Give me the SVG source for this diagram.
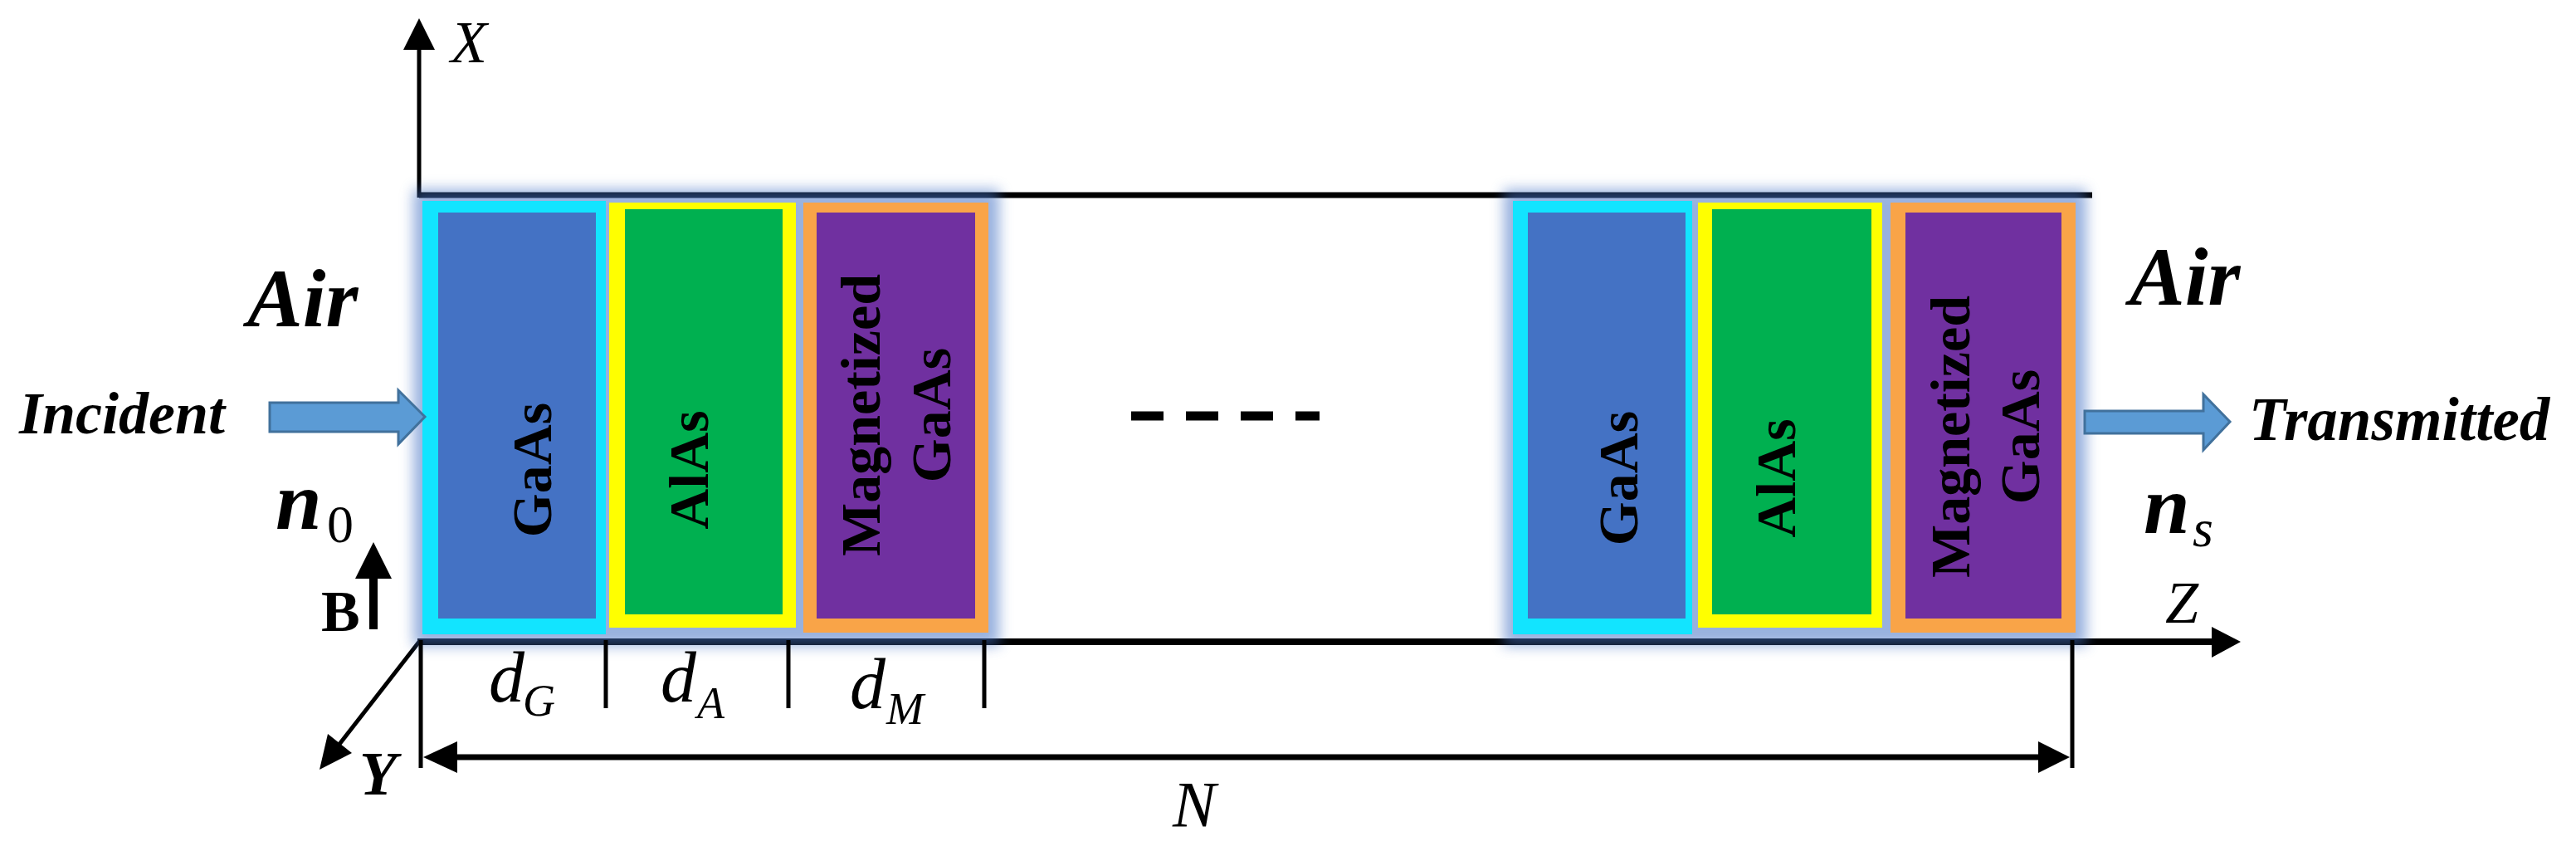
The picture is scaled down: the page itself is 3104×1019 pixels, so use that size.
<svg xmlns="http://www.w3.org/2000/svg" width="3104" height="1019" viewBox="0 0 3104 1019">
<style>
.ln{stroke:#000;fill:none}
.hd{fill:#000}
.lbl{font-family:"Liberation Serif",serif;fill:#000}
.bi{font-style:italic;font-weight:bold}
.it{font-style:italic}
.cell{font-family:"Liberation Serif",serif;font-weight:bold;font-size:68px;fill:#000;text-anchor:middle}
.big{fill:#5B9BD5;stroke:#41719C;stroke-width:3}
.glow{fill:#4472C4;opacity:0.55}
</style>
<defs>
<filter id="blur" x="-20%" y="-20%" width="140%" height="140%"><feGaussianBlur stdDeviation="8"/></filter>
</defs>
<rect width="3104" height="1019" fill="#fff"/>
<g id="axes">
<line class="ln" x1="505" y1="235" x2="2521" y2="235" stroke-width="7"/>
<line class="ln" x1="503" y1="773" x2="2668" y2="773" stroke-width="8"/>
<polygon class="hd" points="2700,773 2665,755 2665,792"/>
<line class="ln" x1="505" y1="238" x2="505" y2="55" stroke-width="5"/>
<polygon class="hd" points="505,22 486,60 524,60"/>
<line class="ln" x1="505" y1="773" x2="403" y2="904" stroke-width="5"/>
<polygon class="hd" points="385,927 395,884 424,907"/>
</g>
<g id="glow1"><rect class="glow" x="498" y="228" width="706" height="550" filter="url(#blur)"/></g>
<g id="glow2"><rect class="glow" x="1812" y="228" width="702" height="550" filter="url(#blur)"/></g>
<g id="gaas1">
<rect x="509" y="242" width="221" height="522" fill="#12E4FF"/>
<rect x="528" y="256" width="190" height="489" fill="#4472C4"/>
<text class="cell" transform="translate(664,566) rotate(-90)">GaAs</text>
</g>
<g id="alas1">
<rect x="734" y="244" width="225" height="512" fill="#FFFF00"/>
<rect x="753" y="252" width="190" height="488" fill="#00B050"/>
<text class="cell" transform="translate(853,566) rotate(-90)">AlAs</text>
</g>
<g id="mag1">
<rect x="968" y="244" width="223" height="518" fill="#F9A448"/>
<rect x="984" y="256" width="191" height="489" fill="#7030A0"/>
<text class="cell" transform="translate(1060,500) rotate(-90)">Magnetized</text>
<text class="cell" transform="translate(1145,500) rotate(-90)">GaAs</text>
</g>
<g id="gaas2">
<rect x="1823" y="242" width="216" height="522" fill="#12E4FF"/>
<rect x="1841" y="256" width="190" height="489" fill="#4472C4"/>
<text class="cell" transform="translate(1973,576) rotate(-90)">GaAs</text>
</g>
<g id="alas2">
<rect x="2046" y="244" width="222" height="512" fill="#FFFF00"/>
<rect x="2063" y="252" width="192" height="488" fill="#00B050"/>
<text class="cell" transform="translate(2163,576) rotate(-90)">AlAs</text>
</g>
<g id="mag2">
<rect x="2278" y="244" width="223" height="518" fill="#F9A448"/>
<rect x="2296" y="256" width="188" height="489" fill="#7030A0"/>
<text class="cell" transform="translate(2373,526) rotate(-90)">Magnetized</text>
<text class="cell" transform="translate(2457,526) rotate(-90)">GaAs</text>
</g>
<g id="connectors">
<polygon class="big" points="325,485 480,485 480,470 512,502 480,535 480,520 325,520"/>
<polygon class="big" points="2512,495 2655,495 2655,475 2687,508 2655,542 2655,522 2512,522"/>
<rect x="445" y="690" width="10" height="68" fill="#000"/>
<polygon class="hd" points="450,653 428,697 472,697"/>
<line class="ln" x1="507" y1="771" x2="507" y2="925" stroke-width="5"/>
<line class="ln" x1="730" y1="771" x2="730" y2="853" stroke-width="5"/>
<line class="ln" x1="950" y1="771" x2="950" y2="853" stroke-width="5"/>
<line class="ln" x1="1186" y1="771" x2="1186" y2="853" stroke-width="5"/>
<line class="ln" x1="2497" y1="771" x2="2497" y2="925" stroke-width="5"/>
<line class="ln" x1="545" y1="912" x2="2462" y2="912" stroke-width="7"/>
<polygon class="hd" points="510,912 551,893 551,931"/>
<polygon class="hd" points="2494,912 2456,893 2456,931"/>
<line class="ln" x1="1363" y1="501" x2="1590" y2="501" stroke-width="11" stroke-dasharray="39 27"/>
</g>
<g id="labels">
<text class="lbl it" x="543" y="75" font-size="72">X</text>
<text class="lbl bi" x="298" y="393" font-size="100">Air</text>
<text class="lbl bi" x="2566" y="367" font-size="100">Air</text>
<text class="lbl bi" x="23" y="522" font-size="72">Incident</text>
<text class="lbl bi" x="2710" y="530" font-size="73">Transmitted</text>
<text class="lbl" x="332" y="637"><tspan class="bi" font-size="100">n</tspan><tspan x="394" y="653" font-size="64">0</tspan></text>
<text class="lbl" x="2583" y="642"><tspan class="bi" font-size="100">n</tspan><tspan class="it" x="2642" y="658" font-size="64">s</tspan></text>
<text class="lbl" x="387" y="760" font-size="70" font-weight="bold">B</text>
<text class="lbl bi" x="433" y="957" font-size="74">Y</text>
<text class="lbl it" x="2609" y="750" font-size="72">Z</text>
<text class="lbl it" x="1413" y="995" font-size="78">N</text>
<text class="lbl it" x="589" y="845"><tspan font-size="86">d</tspan><tspan x="630" y="862" font-size="54">G</tspan></text>
<text class="lbl it" x="796" y="845"><tspan font-size="86">d</tspan><tspan x="840" y="865" font-size="54">A</tspan></text>
<text class="lbl it" x="1024" y="853"><tspan font-size="86">d</tspan><tspan x="1068" y="872" font-size="54">M</tspan></text>
</g>
</svg>
